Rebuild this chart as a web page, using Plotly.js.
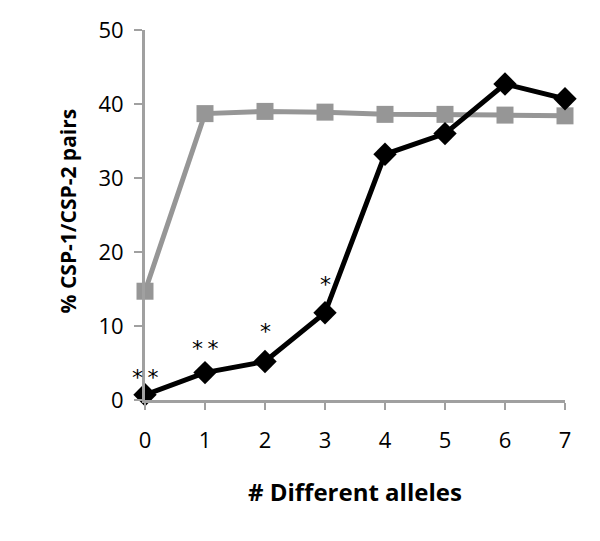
<!DOCTYPE html>
<html><head><meta charset="utf-8">
<script src="https://cdn.plot.ly/plotly-3.0.1.min.js"></script>
<style>body{margin:0;padding:0;background:#fff}#chart{width:600px;height:541px}</style>
</head><body><div id="chart"></div>
<script>
const alleles = [0,1,2,3,4,5,6,7];
const graySeries = [14.7,38.7,39.0,38.9,38.6,38.6,38.5,38.4];
const blackSeries = [0.7,3.7,5.2,11.8,33.2,36.0,42.7,40.7];
const starX = [0,1,2,3];
const starY = [3.1,7.0,9.3,15.6];
const starText = ['*\u2009*','*\u2009*','*','*'];
const xTitle = '# Different alleles';
const yTitle = '% CSP-1/CSP-2 pairs';

const traces = [
  {x:alleles,y:graySeries,mode:'lines+markers',type:'scatter',
   line:{color:'#969696',width:5},marker:{symbol:'square',size:17,color:'#969696'},cliponaxis:false},
  {x:alleles,y:blackSeries,mode:'lines+markers',type:'scatter',
   line:{color:'#000',width:5},marker:{symbol:'diamond',size:18,color:'#000'},cliponaxis:false}
];
const annotations = starX.map((x,i)=>({x:x,y:starY[i],text:starText[i],showarrow:false,
  font:{family:'DejaVu Sans',size:22,color:'#000000'},xref:'x',yref:'y'}));
annotations.push({xref:'paper',yref:'paper',x:0.5,y:-0.246,xanchor:'center',yanchor:'middle',
  text:'<b>'+xTitle+'</b>',showarrow:false,font:{family:'Open Sans, sans-serif',size:24,color:'#000'}});
annotations.push({xref:'paper',yref:'paper',x:-0.183,y:0.51,xanchor:'center',yanchor:'middle',textangle:-90,
  text:'<b>'+yTitle+'</b>',showarrow:false,font:{family:'Open Sans, sans-serif',size:21,color:'#000'}});
const layout = {
  width:600,height:541,margin:{l:145,r:35,t:30,b:141},
  showlegend:false,paper_bgcolor:'#fff',plot_bgcolor:'#fff',
  font:{family:'Open Sans, sans-serif',color:'#000'},
  xaxis:{range:[0,7],tickvals:alleles,ticks:'outside',ticklen:7,tickwidth:2,tickcolor:'#a0a0a0',
    showline:true,linecolor:'#a0a0a0',linewidth:3,showgrid:false,zeroline:false,
    tickfont:{size:22},ticklabelstandoff:12},
  yaxis:{range:[0,50],tickvals:[0,10,20,30,40,50],ticks:'outside',ticklen:8,tickwidth:2,tickcolor:'#a0a0a0',
    showline:true,linecolor:'#a0a0a0',linewidth:3,showgrid:false,zeroline:false,
    tickfont:{size:22},ticklabelstandoff:6},
  annotations:annotations
};
Plotly.newPlot('chart',traces,layout,{displayModeBar:false,staticPlot:true});
</script></body></html>
